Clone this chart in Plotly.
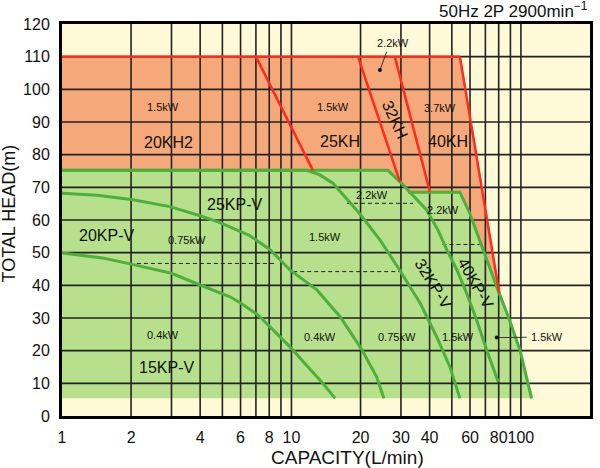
import numpy as np
import plotly.graph_objects as go

# ---------------- data ----------------
# KH series (orange) region and red boundary lines
kh_top_x = [1, 54.2]
kh_top_y = [110, 110]
kh_20_25_x = [7.0, 12.4]
kh_20_25_y = [110, 75.2]
kh_25_32_x = [19.5, 29.7]
kh_25_32_y = [110, 71.7]
kh_32_40_x = [28.2, 40.1]
kh_32_40_y = [110, 68.7]
kh_40_edge_x = [54.2, 80.5]
kh_40_edge_y = [110, 37.6]

# KP-V series (green) curves
kp15_x = [1, 1.5, 2, 3, 4, 5.4, 6, 7.16, 8.61, 10.0, 11.6, 13.7, 15.5]
kp15_y = [49.9, 48.4, 46.5, 43.7, 40.1, 36.5, 34.6, 30.9, 25.3, 20.7, 15.6, 10.0, 5.4]
kp20_x = [1, 1.42, 2.04, 2.95, 4.0, 4.88, 6.58, 8.05, 9.85, 12.9, 16.3, 20.1, 23.5, 25.3]
kp20_y = [68.2, 67.6, 66.2, 64.1, 61.3, 59.2, 55.2, 51.0, 44.7, 38.6, 30.4, 20.7, 12.0, 5.4]
kp25_x = [1, 11.65, 13.3, 15.2, 19.8, 24.3, 29.6, 36.4, 42.9, 49.0, 54.2]
kp25_y = [75.2, 75.2, 73.8, 71.2, 62.0, 53.9, 44.7, 34.5, 24.3, 15.1, 5.4]
kp32_x = [1, 26.3, 30.2, 33.8, 38.8, 43.5, 47.6, 52.6, 58.0, 64.1, 70.9, 79.6]
kp32_y = [75.2, 75.2, 71.2, 67.6, 63.1, 56.9, 50.8, 44.7, 37.6, 29.4, 20.2, 10.5]
kp40_x = [32.2, 54.2, 59.9, 65.2, 70.9, 78.4, 88.1, 99.0, 111.3]
kp40_y = [68.5, 68.5, 62.0, 54.9, 47.8, 39.6, 30.4, 20.2, 5.4]
kp_bottom = 5.4

# dashed kW split lines: (x_start, x_end, y)
dash_x0 = [2.12, 10.18, 17.45, 45.5]
dash_x1 = [8.47, 29.6, 33.9, 68.5]
dash_y = [46.7, 44.2, 65.1, 52.5]

# text labels
model_labels = ["20KH2", "25KH", "40KH", "15KP-V", "20KP-V", "25KP-V"]
model_x = [2.90, 16.3, 48.1, 2.86, 1.57, 5.67]
model_y = [83.6, 83.9, 83.9, 14.9, 55.4, 64.6]
rot_labels = ["32KH", "32KP-V", "40KP-V"]
rot_x = [28.4, 41.5, 63.6]
rot_y = [90.6, 40.6, 40.6]
rot_ang = [65, 58, 60]
kw_labels = ["1.5kW", "1.5kW", "3.7kW", "2.2kW", "2.2kW", "2.2kW", "1.5kW",
             "0.75kW", "0.4kW", "0.4kW", "0.75kW", "1.5kW", "1.5kW"]
kw_x = [2.75, 15.2, 44.4, 27.7, 22.4, 45.9, 14.0, 3.49, 2.76, 13.3, 28.7, 53.3, 129.4]
kw_y = [94.6, 94.6, 94.3, 114.2, 67.6, 63.1, 54.7, 53.9, 24.8, 24.3, 24.3, 24.3, 24.1]
dot_x = [24.3, 78.4]
dot_y = [105.9, 24.0]
leader_x = [[26.0, 24.3], [78.4, 105.9]]
leader_y = [[111.5, 105.9], [24.0, 24.1]]

# axes
x_tickvals = [1, 2, 3, 4, 5, 6, 7, 8, 9, 10, 20, 30, 40, 50, 60, 70, 80, 90, 100, 200]
x_ticktext = ["1", "2", "", "4", "", "6", "", "8", "", "10", "20", "30", "40", "",
              "60", "", "80", "", "100", "200"]
grid_x = [2, 3, 4, 5, 6, 7, 8, 9, 10, 20, 30, 40, 50, 60, 70, 80, 90, 100]
grid_y = [10, 20, 30, 40, 50, 60, 70, 80, 90, 100, 110]
x_min, x_max = 1, 200
y_min, y_max = 0, 120

# ---------------- styles ----------------
CREAM = "#FEF9D6"
ORANGE = "#F5A97B"
GREEN = "#B6E08C"
GLINE = "#4DB03C"
RED = "#FF2B1C"
GRID = "#222222"
FONT = "Liberation Sans, Arial, sans-serif"

fig = go.Figure()

# orange region
orange_x = [kh_top_x[0], kh_top_x[1], kh_40_edge_x[1], kh_top_x[0]]
orange_y = [kh_top_y[0], kh_top_y[1], kh_40_edge_y[1], kh_40_edge_y[1]]
fig.add_trace(go.Scatter(x=orange_x, y=orange_y, fill="toself", fillcolor=ORANGE,
                         mode="none", hoverinfo="skip"))

# green region: top of 32KP-V up to the 40KP-V flat, then 40KP-V down
gx, gy = [], []
for xv, yv in zip(kp32_x, kp32_y):
    if xv < kp40_x[0]:
        gx.append(xv); gy.append(yv)
gx += kp40_x; gy += kp40_y
gx += [1]; gy += [kp_bottom]
fig.add_trace(go.Scatter(x=gx, y=gy, fill="toself", fillcolor=GREEN,
                         mode="none", hoverinfo="skip"))

# grid lines on top of fills
vx, vy = [], []
for g in grid_x:
    vx += [g, g, None]; vy += [y_min, y_max, None]
hx, hy = [], []
for g in grid_y:
    hx += [x_min, x_max, None]; hy += [g, g, None]
fig.add_trace(go.Scatter(x=vx, y=vy, mode="lines", line=dict(color=GRID, width=1.6),
                         hoverinfo="skip"))
fig.add_trace(go.Scatter(x=hx, y=hy, mode="lines", line=dict(color=GRID, width=1.6),
                         hoverinfo="skip"))

# dashed split lines
for a, b, c in zip(dash_x0, dash_x1, dash_y):
    fig.add_trace(go.Scatter(x=[a, b], y=[c, c], mode="lines",
                             line=dict(color="#222222", width=1, dash="4px,3px"),
                             hoverinfo="skip"))

# green curves
for cx, cy in [(kp15_x, kp15_y), (kp20_x, kp20_y), (kp25_x, kp25_y),
               (kp32_x, kp32_y), (kp40_x, kp40_y)]:
    fig.add_trace(go.Scatter(x=cx, y=cy, mode="lines",
                             line=dict(color=GLINE, width=3), hoverinfo="skip"))

# red lines
for cx, cy in [(kh_top_x, kh_top_y), (kh_20_25_x, kh_20_25_y), (kh_25_32_x, kh_25_32_y),
               (kh_32_40_x, kh_32_40_y), (kh_40_edge_x, kh_40_edge_y)]:
    fig.add_trace(go.Scatter(x=cx, y=cy, mode="lines",
                             line=dict(color=RED, width=2.5), hoverinfo="skip"))

# leader lines and dots
for lx, ly in zip(leader_x, leader_y):
    fig.add_trace(go.Scatter(x=lx, y=ly, mode="lines",
                             line=dict(color="#333333", width=1), hoverinfo="skip"))
fig.add_trace(go.Scatter(x=dot_x, y=dot_y, mode="markers",
                         marker=dict(color="#111111", size=4), hoverinfo="skip"))

annotations = []
for t, xv, yv in zip(model_labels, model_x, model_y):
    annotations.append(dict(x=np.log10(xv), y=yv, text=t, showarrow=False,
                            font=dict(family=FONT, size=16, color="#111")))
for t, xv, yv, a in zip(rot_labels, rot_x, rot_y, rot_ang):
    annotations.append(dict(x=np.log10(xv), y=yv, text=t, showarrow=False, textangle=a,
                            font=dict(family=FONT, size=16, color="#111")))
for t, xv, yv in zip(kw_labels, kw_x, kw_y):
    annotations.append(dict(x=np.log10(xv), y=yv, text=t, showarrow=False,
                            font=dict(family=FONT, size=11, color="#111")))

# title and axis titles
annotations.append(dict(xref="paper", yref="paper", x=1.0, y=(416 - 23) / 392,
                        xanchor="right", yanchor="bottom",
                        text="50Hz 2P 2900min<sup>−1</sup>", showarrow=False,
                        font=dict(family=FONT, size=17, color="#111")))
annotations.append(dict(xref="paper", yref="paper", x=0.54, y=-0.107, xanchor="center",
                        yanchor="middle", text="CAPACITY(L/min)", showarrow=False,
                        font=dict(family=FONT, size=19, color="#111")))
annotations.append(dict(xref="paper", yref="paper", x=-0.0985, y=0.5166, xanchor="center",
                        yanchor="middle", text="TOTAL HEAD(m)", showarrow=False,
                        textangle=-90, font=dict(family=FONT, size=18, color="#111")))

fig.update_layout(
    width=600, height=468,
    margin=dict(l=62, r=10, t=24, b=52, autoexpand=False),
    paper_bgcolor="white",
    plot_bgcolor=CREAM,
    showlegend=False,
    hovermode=False,
    annotations=annotations,
    xaxis=dict(type="log", range=[np.log10(x_min), np.log10(x_max)],
               tickvals=x_tickvals, ticktext=x_ticktext, showgrid=False,
               zeroline=False, showline=True, mirror=True, linecolor="black",
               linewidth=3, ticks="outside", ticklen=5, tickcolor="rgba(0,0,0,0)",
               tickangle=0, automargin=False,
               tickfont=dict(family=FONT, size=16, color="#111")),
    yaxis=dict(range=[y_min, y_max], dtick=10, showgrid=False, zeroline=False,
               showline=True, mirror=True, linecolor="black", linewidth=3,
               ticks="outside", ticklen=6, tickcolor="rgba(0,0,0,0)",
               automargin=False,
               tickfont=dict(family=FONT, size=16, color="#111")),
)

fig.write_html("out.html", config={"displayModeBar": False},
               post_script="document.body.style.margin='0px';"
                           "document.body.style.overflow='hidden';")
